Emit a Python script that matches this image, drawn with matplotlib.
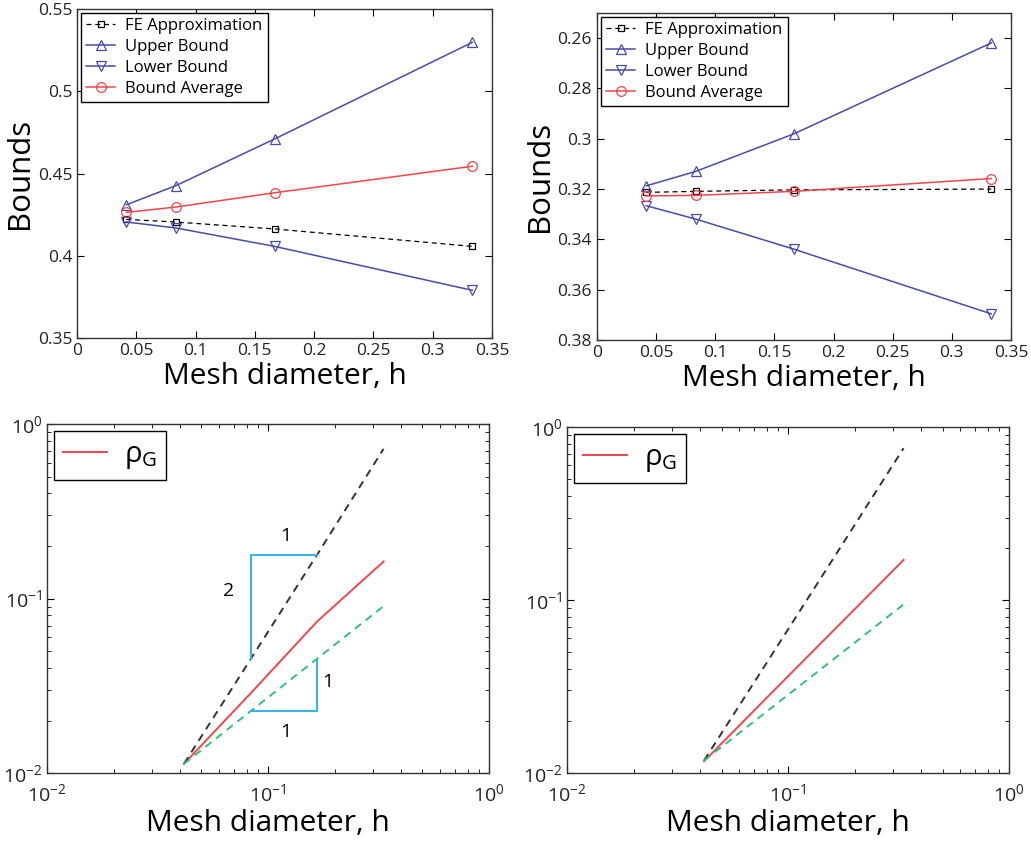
import matplotlib
matplotlib.use("Agg")
import matplotlib.pyplot as plt
from matplotlib.ticker import FuncFormatter, MultipleLocator

plt.rcParams['font.family'] = ['Open Sans', 'DejaVu Sans']
plt.rcParams['mathtext.fontset'] = 'custom'
plt.rcParams['mathtext.rm'] = 'Open Sans'
plt.rcParams['mathtext.it'] = 'Open Sans'

# mesh sizes
h = [1/24, 1/12, 1/6, 1/3]

# left problem, top
fe_a = [0.4221, 0.4205, 0.4163, 0.4057]
up_a = [0.4310, 0.4426, 0.4710, 0.5297]
lo_a = [0.4205, 0.4169, 0.4057, 0.3790]
av_a = [0.4264, 0.4296, 0.4383, 0.4544]

# right problem, top
fe_b = [0.3213, 0.3209, 0.3203, 0.3200]
up_b = [0.3187, 0.3130, 0.2980, 0.2619]
lo_b = [0.3266, 0.3319, 0.3439, 0.3696]
av_b = [0.3227, 0.3225, 0.3209, 0.3158]

# error curves, bottom
rho_a = [0.0113, 0.0286, 0.0738, 0.163]
sq_a = [0.0113, 0.0448, 0.178, 0.72]
lin_a = [0.0113, 0.0226, 0.0452, 0.0904]

rho_b = [0.0117, 0.0287, 0.0700, 0.1706]
sq_b = [0.0118, 0.0470, 0.188, 0.755]
lin_b = [0.0118, 0.0236, 0.0472, 0.0944]

BLUE = '#4a4aaa'
RED = '#f0464c'
GREEN = '#2fc07a'
CYAN = '#2cb4e6'
DARK = '#333333'

fig = plt.figure(figsize=(10.31, 8.48), dpi=100)

fmt = FuncFormatter(lambda v, p: '%g' % round(v, 4))


def style(ax, size):
    ax.tick_params(direction='in', which='both', top=True, right=True,
                   labelsize=size, length=5, labelcolor='#222222')
    ax.tick_params(which='minor', length=3)
    for s in ax.spines.values():
        s.set_linewidth(1.0)
        s.set_color('#333333')


def top_panel(ax, fe, up, lo, av):
    ax.plot(h, fe, '--s', color='black', lw=0.9, ms=5, mfc='none', mew=0.9,
            dashes=(4, 3), label='FE Approximation')
    ax.plot(h, up, '-^', color=BLUE, lw=1.1, ms=7, mfc='none', mew=0.9,
            label='Upper Bound')
    ax.plot(h, lo, '-v', color=BLUE, lw=1.1, ms=7, mfc='none', mew=0.9,
            label='Lower Bound')
    ax.plot(h, av, '-o', color=RED, lw=1.1, ms=7, mfc='none', mew=0.9,
            label='Bound Average')
    ax.set_xlim(0, 0.35)
    ax.xaxis.set_major_locator(MultipleLocator(0.05))
    ax.xaxis.set_major_formatter(fmt)
    ax.yaxis.set_major_formatter(fmt)
    ax.set_xlabel('Mesh diameter, h', fontsize=21.5, labelpad=2)
    ax.set_ylabel('Bounds', fontsize=22.5, labelpad=2)
    leg = ax.legend(loc='upper left', fontsize=12, fancybox=False,
                    edgecolor='black', framealpha=1, handlelength=1.75,
                    borderaxespad=0.25, labelspacing=0.3, borderpad=0.3,
                    handletextpad=0.6)
    leg.get_frame().set_linewidth(1.0)
    style(ax, 12.5)


ax1 = fig.add_axes([0.0747, 0.6014, 0.4025, 0.388])
top_panel(ax1, fe_a, up_a, lo_a, av_a)
ax1.set_ylim(0.35, 0.55)
ax1.yaxis.set_major_locator(MultipleLocator(0.05))

ax2 = fig.add_axes([0.579, 0.599, 0.4016, 0.3857])
top_panel(ax2, fe_b, up_b, lo_b, av_b)
ax2.set_ylim(0.38, 0.25)
ax2.set_yticks([0.26, 0.28, 0.30, 0.32, 0.34, 0.36, 0.38])


def bottom_panel(ax, rho, sq, lin):
    ax.loglog(h, rho, '-', color=RED, lw=1.4, label=r'$\rho_G$')
    ax.loglog(h, sq, '--', color=DARK, lw=1.4, dashes=(4, 3))
    ax.loglog(h, lin, '--', color=GREEN, lw=1.4, dashes=(4, 3))
    ax.set_xlim(1e-2, 1)
    ax.set_ylim(1e-2, 1)
    ax.set_xlabel('Mesh diameter, h', fontsize=21.5, labelpad=3)
    leg = ax.legend(loc='upper left', fontsize=21, fancybox=False,
                    edgecolor='black', framealpha=1, handlelength=1.5,
                    borderaxespad=0.25, borderpad=0.3, handletextpad=0.6)
    leg.get_frame().set_linewidth(1.0)
    style(ax, 14)
    ax.tick_params(axis='x', which='major', pad=7)


ax3 = fig.add_axes([0.0456, 0.0884, 0.4287, 0.4116])
bottom_panel(ax3, rho_a, sq_a, lin_a)

# slope triangles, placed on the reference lines
ax3.plot([h[1], h[1], h[2]], [sq_a[1], sq_a[2], sq_a[2]], color=CYAN, lw=1.4)
ax3.plot([h[1], h[2], h[2]], [lin_a[1], lin_a[1], lin_a[2]], color=CYAN, lw=1.4)
ax3.text(0.12, 0.227, '1', fontsize=14, ha='center', va='center')
ax3.text(0.0663, 0.111, '2', fontsize=14, ha='center', va='center')
ax3.text(0.187, 0.0334, '1', fontsize=14, ha='center', va='center')
ax3.text(0.12, 0.0172, '1', fontsize=14, ha='center', va='center')

ax4 = fig.add_axes([0.55, 0.0884, 0.4287, 0.408])
bottom_panel(ax4, rho_b, sq_b, lin_b)

fig.savefig('out.png', dpi=100)
